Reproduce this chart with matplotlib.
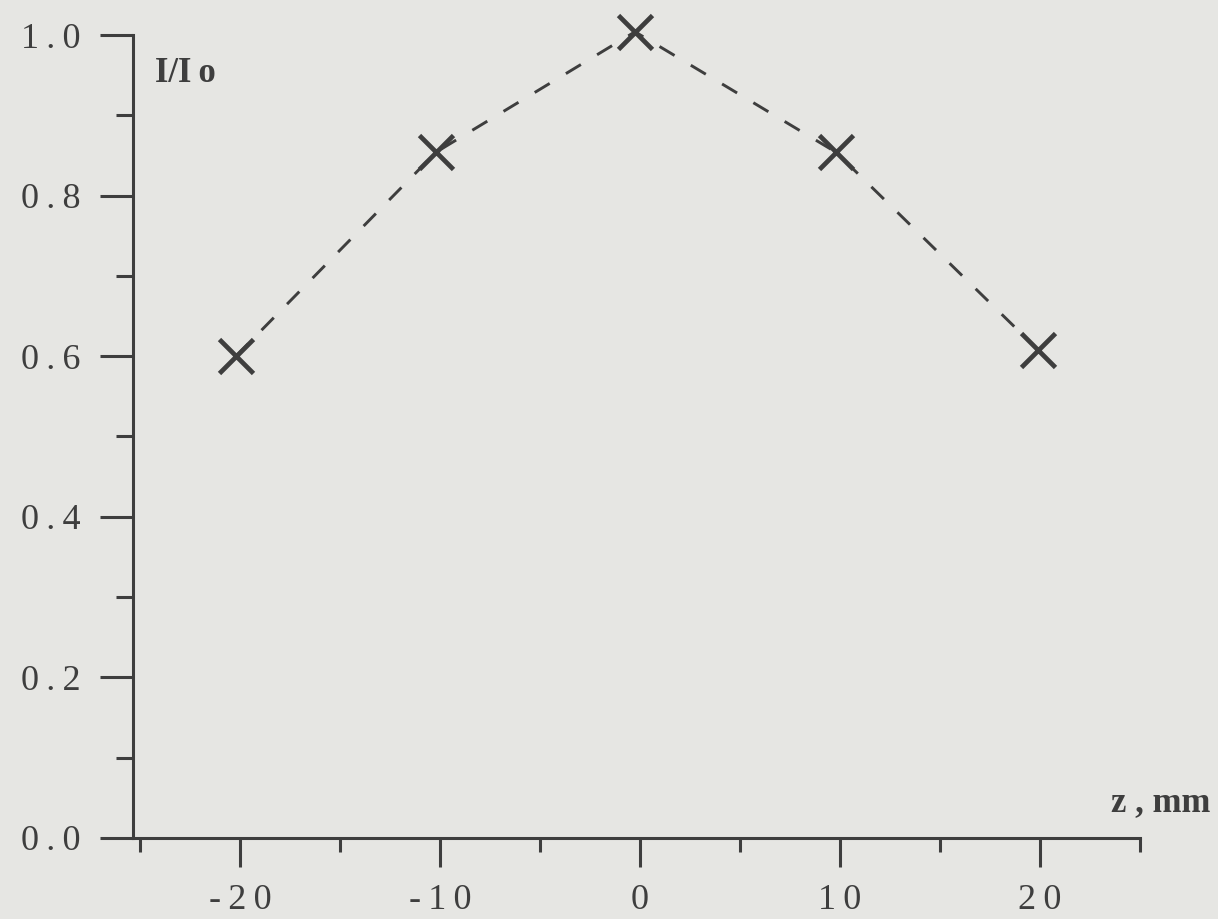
import numpy as np
import matplotlib.pyplot as plt
from matplotlib.ticker import MultipleLocator

# values
z_mm = [-20.2, -10.2, -0.25, 9.8, 19.9]
intensity = [0.600, 0.854, 1.004, 0.854, 0.608]

x_major = [-20, -10, 0, 10, 20]
x_labels = ["-20", "-10", "0", "10", "20"]
y_major = [0.0, 0.2, 0.4, 0.6, 0.8, 1.0]
y_labels = ["0.0", "0.2", "0.4", "0.6", "0.8", "1.0"]

ink = '#3e3e3e'
paper = '#e6e6e3'
ts = '\u2009'  # thin space, the scan's type is loosely set


def spaced(s):
    return ts.join(s)


plt.rcParams['font.family'] = ['Liberation Serif', 'DejaVu Serif']

W, H = 1218, 919
fig = plt.figure(figsize=(W / 100, H / 100), dpi=100, facecolor=paper)
ax = fig.add_axes([133 / W, (H - 838) / H, (1140 - 133) / W, (838 - 35) / H])
ax.set_facecolor(paper)

ax.set_xlim(-25.35, 25.0)
ax.set_ylim(0.0, 1.0)

# dashed guide line, then the cross markers
ax.plot(z_mm, intensity, color=ink, lw=2.1, dashes=(6, 6.5), zorder=2,
        clip_on=False)
ax.plot(z_mm, intensity, linestyle='none', marker='x', markersize=25,
        markeredgewidth=3.4, color=ink, zorder=3, clip_on=False)

lw_axis = 2.2
for side in ('top', 'right'):
    ax.spines[side].set_visible(False)
for side in ('left', 'bottom'):
    ax.spines[side].set_color(ink)
    ax.spines[side].set_linewidth(lw_axis)

ax.set_xticks(x_major)
ax.set_xticklabels([spaced(s) for s in x_labels])
ax.xaxis.set_minor_locator(MultipleLocator(5))
ax.set_yticks(y_major)
ax.set_yticklabels([spaced(s) for s in y_labels])
ax.yaxis.set_minor_locator(MultipleLocator(0.1))

ax.tick_params(axis='x', which='major', direction='out', length=21,
               width=lw_axis, color=ink, labelcolor=ink, labelsize=26, pad=12)
ax.tick_params(axis='x', which='minor', direction='out', length=10,
               width=lw_axis, color=ink)
ax.tick_params(axis='y', which='major', direction='out', length=24,
               width=lw_axis, color=ink, labelcolor=ink, labelsize=26, pad=14)
ax.tick_params(axis='y', which='minor', direction='out', length=12,
               width=lw_axis, color=ink)

ax.text(-24.25, 0.952, "I/I" + ts + "o", fontsize=25, fontweight='bold',
        color=ink, ha='left', va='center')
ax.text(28.5, 0.044, "z , mm", fontsize=25, fontweight='bold', color=ink,
        ha='right', va='center', clip_on=False)

fig.savefig('out.png', dpi=100, facecolor=paper)
